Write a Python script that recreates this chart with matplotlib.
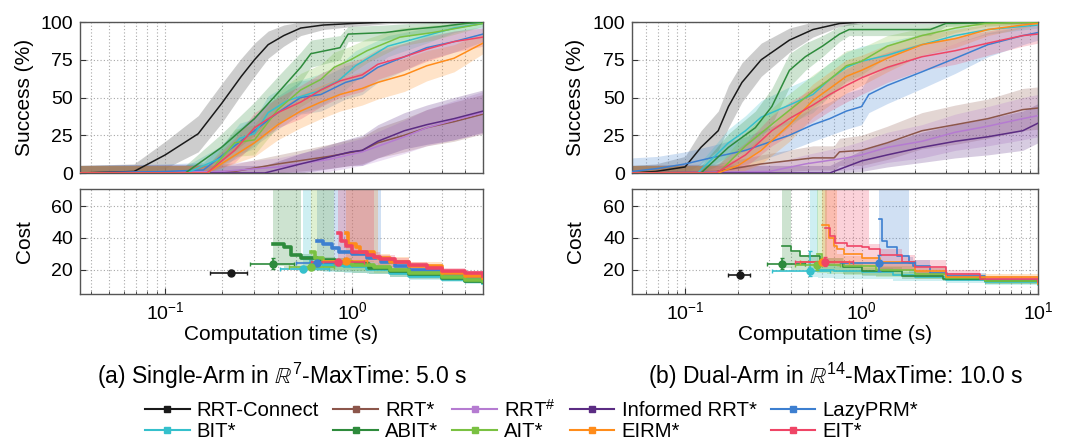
import numpy as np
import matplotlib
matplotlib.use("Agg")
import matplotlib.pyplot as plt
from matplotlib.lines import Line2D
from matplotlib.ticker import LogLocator, NullFormatter

plt.rcParams['font.family'] = ['Liberation Sans', 'DejaVu Sans']
plt.rcParams['mathtext.fontset'] = 'custom'
plt.rcParams['mathtext.rm'] = 'Liberation Sans'
plt.rcParams['mathtext.it'] = 'Liberation Sans:italic'
plt.rcParams['mathtext.bf'] = 'Liberation Sans:bold'

planners = ["RRT-Connect", "RRT*", "RRT$^{\\#}$", "Informed RRT*", "LazyPRM*",
            "BIT*", "ABIT*", "AIT*", "EIRM*", "EIT*"]
colors = {"RRT-Connect": "#1a1a1a", "RRT*": "#8c564b", "RRT$^{\\#}$": "#b57bd1",
          "Informed RRT*": "#5b2c83", "LazyPRM*": "#3d7fd0", "BIT*": "#35c0cc",
          "ABIT*": "#2e8b3c", "AIT*": "#7ac142", "EIRM*": "#ff8c1a", "EIT*": "#ef4566"}

# ---------------- Success data: (times, success %, band half-width) ----------
# Panel (a) single arm
succ_a = {
    "RRT-Connect": ([0.035, 0.068, 0.1, 0.15, 0.2, 0.255, 0.3, 0.355, 0.43, 0.53, 0.7, 1.0, 1.6, 5.0],
                    [0, 1, 12, 26, 46, 64, 75, 85, 91, 96, 98, 99, 100, 100],
                    [5, 5, 9, 12, 13, 12, 11, 9, 7, 5, 3, 2, 1, 1]),
    "RRT*": ([0.035, 0.235, 0.4, 0.75, 1.13, 1.37, 1.9, 2.5, 3.5, 5.0],
             [0, 1, 6, 11, 15, 20, 25, 30, 34, 39],
             [5, 5, 6, 8, 9, 10, 11, 12, 13, 13]),
    "RRT$^{\\#}$": ([0.035, 0.2, 0.4, 0.75, 1.13, 1.9, 2.5, 3.5, 5.0],
                    [0, 1, 4, 9, 14, 24, 30, 35, 40],
                    [5, 5, 6, 8, 9, 11, 12, 13, 14]),
    "Informed RRT*": ([0.035, 0.34, 0.53, 0.98, 1.13, 1.37, 1.9, 2.5, 3.5, 5.0],
                      [0, 0, 6, 14, 15, 21, 28, 32, 36, 41],
                      [5, 5, 7, 9, 10, 11, 12, 13, 14, 14]),
    "LazyPRM*": ([0.035, 0.1, 0.16, 0.235, 0.3, 0.4, 0.53, 0.68, 0.92, 1.13, 1.37, 1.9, 2.5, 3.5, 5.0],
                 [0, 1, 2, 18, 28, 40, 50, 52, 60, 63, 70, 77, 83, 87, 92],
                 [5, 5, 5, 9, 10, 11, 11, 11, 11, 11, 10, 9, 8, 7, 5]),
    "BIT*": ([0.035, 0.13, 0.2, 0.25, 0.3, 0.355, 0.45, 0.65, 0.84, 1.04, 1.55, 2.5, 3.5, 5.0],
             [0, 0, 10, 23, 26, 40, 48, 54, 61, 71, 84, 91, 96, 99],
             [5, 5, 8, 10, 10, 11, 11, 11, 10, 10, 7, 5, 3, 2]),
    "ABIT*": ([0.035, 0.128, 0.2, 0.3, 0.4, 0.53, 0.6, 0.86, 0.95, 1.5, 2.0, 3.0, 4.0, 5.0],
              [0, 0, 17, 36, 53, 70, 79, 83, 92, 93, 95, 97, 99, 100],
              [5, 5, 9, 11, 11, 10, 9, 8, 5, 5, 4, 3, 2, 1]),
    "AIT*": ([0.035, 0.17, 0.235, 0.3, 0.4, 0.53, 0.68, 0.8, 0.98, 1.2, 1.8, 2.7, 5.0],
             [0, 0, 20, 22, 42, 55, 62, 70, 75, 81, 90, 93, 99],
             [5, 5, 9, 10, 11, 11, 10, 10, 9, 8, 6, 5, 2]),
    "EIRM*": ([0.035, 0.167, 0.3, 0.4, 0.53, 0.68, 0.86, 1.13, 1.37, 1.9, 2.5, 3.5, 5.0],
              [0, 0, 20, 32, 41, 47, 52, 56, 60, 65, 71, 76, 86],
              [5, 5, 9, 10, 11, 11, 11, 11, 11, 11, 10, 9, 7]),
    "EIT*": ([0.035, 0.167, 0.235, 0.3, 0.4, 0.53, 0.68, 0.86, 1.13, 1.37, 1.9, 2.5, 3.5, 5.0],
             [0, 0, 15, 30, 40, 47, 55, 61, 65, 72, 77, 82, 87, 90],
             [5, 5, 8, 10, 10, 11, 11, 11, 11, 10, 9, 8, 7, 6]),
}
# Panel (b) dual arm
succ_b = {
    "RRT-Connect": ([0.05, 0.068, 0.1, 0.123, 0.154, 0.176, 0.21, 0.27, 0.39, 0.53, 0.75, 1.0, 10],
                    [0, 1, 4, 17, 28, 44, 60, 75, 88, 95, 99, 100, 100],
                    [5, 5, 7, 11, 13, 14, 13, 11, 8, 5, 2, 1, 1]),
    "RRT*": ([0.05, 0.15, 0.27, 0.53, 0.7, 0.75, 1.0, 1.4, 2.2, 3.4, 5.2, 8.2, 10],
             [0, 1, 6, 10, 10, 14, 15, 20, 28, 32, 36, 42, 43],
             [5, 5, 6, 8, 8, 9, 10, 11, 12, 13, 13, 14, 14]),
    "RRT$^{\\#}$": ([0.05, 0.3, 0.48, 0.82, 1.0, 1.4, 2.2, 3.4, 5.2, 8.2, 10],
                    [0, 1, 6, 10, 12, 17, 21, 27, 31, 36, 38],
                    [5, 5, 6, 8, 9, 10, 11, 12, 13, 14, 14]),
    "Informed RRT*": ([0.05, 0.66, 1.0, 1.4, 2.2, 3.4, 5.2, 8.2, 10],
                      [0, 0, 8, 12, 17, 21, 24, 28, 33],
                      [5, 5, 7, 8, 10, 11, 12, 13, 13]),
    "LazyPRM*": ([0.05, 0.07, 0.1, 0.14, 0.22, 0.31, 0.39, 0.53, 0.66, 0.82, 1.0, 1.1, 1.4, 2.2, 3.4, 5.2, 8.2, 10],
                 [1, 3, 6, 10, 15, 21, 25, 32, 36, 41, 44, 52, 58, 67, 76, 85, 91, 93],
                 [9, 8, 8, 8, 9, 10, 10, 11, 11, 12, 12, 12, 12, 11, 10, 8, 6, 5]),
    "BIT*": ([0.05, 0.118, 0.176, 0.22, 0.27, 0.39, 0.53, 0.66, 0.82, 1.0, 1.4, 2.2, 3.4, 5.2, 10],
             [0, 0, 20, 28, 37, 45, 52, 62, 70, 74, 78, 85, 91, 95, 98],
             [5, 5, 9, 10, 11, 12, 12, 11, 10, 10, 9, 7, 5, 3, 2]),
    "ABIT*": ([0.05, 0.123, 0.176, 0.25, 0.31, 0.39, 0.48, 0.6, 0.75, 0.85, 2.45, 3.0, 10],
              [0, 0, 17, 30, 44, 68, 77, 84, 92, 95, 95, 99, 100],
              [5, 5, 9, 11, 12, 11, 9, 7, 5, 4, 4, 2, 1]),
    "AIT*": ([0.05, 0.154, 0.22, 0.34, 0.53, 0.66, 0.82, 1.0, 1.4, 2.2, 3.4, 5.0, 10],
             [0, 0, 18, 36, 54, 62, 71, 74, 84, 91, 96, 99, 100],
             [5, 5, 9, 11, 11, 11, 10, 9, 7, 5, 3, 2, 1]),
    "EIRM*": ([0.05, 0.154, 0.2, 0.27, 0.39, 0.53, 0.66, 0.82, 1.0, 1.4, 2.2, 3.4, 5.2, 8.2, 10],
              [0, 0, 5, 15, 32, 48, 56, 64, 68, 76, 85, 89, 95, 98, 99],
              [5, 5, 6, 9, 11, 11, 11, 11, 10, 9, 7, 6, 4, 2, 1]),
    "EIT*": ([0.05, 0.15, 0.22, 0.31, 0.39, 0.53, 0.66, 0.82, 1.0, 1.4, 2.2, 3.4, 5.2, 8.2, 10],
             [0, 0, 12, 28, 36, 45, 52, 58, 63, 70, 77, 81, 86, 91, 92],
             [5, 5, 8, 10, 11, 11, 11, 11, 11, 10, 9, 9, 8, 7, 6]),
}

# ---------------- Initial-solution points: (t, cost, t_lo, t_hi, c_lo, c_hi) ----
init_a = {
    "RRT-Connect": (0.226, 18.0, 0.173, 0.275, 17.0, 19.5),
    "ABIT*": (0.377, 23.8, 0.285, 0.49, 20.5, 27.0),
    "BIT*": (0.544, 20.2, 0.41, 0.75, 18.5, 22.0),
    "AIT*": (0.6, 21.7, 0.46, 0.8, 20.0, 23.5),
    "LazyPRM*": (0.65, 24.0, 0.5, 0.85, 22.5, 25.5),
    "EIT*": (0.84, 24.5, 0.6, 1.15, 23.0, 26.0),
    "EIRM*": (0.92, 25.7, 0.7, 1.2, 24.0, 27.5),
}
init_b = {
    "RRT-Connect": (0.205, 16.8, 0.176, 0.234, 14.5, 19.5),
    "ABIT*": (0.355, 23.4, 0.29, 0.48, 20.5, 27.0),
    "BIT*": (0.51, 19.2, 0.31, 0.66, 16.0, 32.0),
    "AIT*": (0.56, 22.8, 0.42, 0.75, 20.0, 25.5),
    "EIRM*": (0.6, 24.5, 0.45, 0.85, 23.0, 26.5),
    "EIT*": (0.62, 24.8, 0.42, 0.9, 22.0, 28.0),
    "LazyPRM*": (1.25, 24.4, 0.75, 2.0, 19.0, 29.0),
}

# ---------------- Cost curves: (times, median, lower, upper) ----------------
cost_a = {
    "ABIT*": ([0.377, 0.43, 0.47, 0.53, 0.65, 0.81, 1.0, 1.23, 1.6, 2.0, 3.0, 4.0, 5.0],
              [36, 34, 29.5, 27, 26, 25, 23.5, 21, 19, 17, 14.5, 13, 12],
              [22, 21, 20, 19.5, 19, 18.5, 18, 17, 15.5, 14, 12.5, 11.5, 11],
              [90, 90, 90, 30, 28, 27, 25.5, 23, 21, 19, 16, 14.5, 13.5]),
    "BIT*": ([0.544, 0.6, 0.7, 0.9, 1.2, 1.6, 2.0, 3.0, 4.0, 5.0],
             [27, 24, 23, 22, 20.5, 18, 16, 14, 12.5, 11.5],
             [20, 19, 18.5, 18, 17, 15, 13.5, 12, 11, 10.5],
             [90, 27, 25, 24, 22.5, 20, 18, 15.5, 14, 13]),
    "AIT*": ([0.6, 0.63, 0.7, 0.8, 1.0, 1.3, 1.6, 2.0, 3.0, 4.0, 5.0],
             [31, 27, 25, 24, 23, 21.5, 19.5, 17.5, 15, 13.5, 12.5],
             [21, 20.5, 20, 19.5, 19, 18, 16.5, 15, 13, 12, 11.5],
             [90, 90, 90, 27, 25.5, 24, 22, 20, 17, 15, 14]),
    "LazyPRM*": ([0.65, 0.7, 0.78, 0.85, 1.0, 1.2, 1.42, 1.7, 2.0, 3.0, 4.0, 5.0],
                 [38, 36, 33.5, 31, 30, 27, 25, 22, 20, 17, 15.5, 14.5],
                 [24, 23, 22, 21.5, 21, 20, 19, 18, 17, 14.5, 13.5, 13],
                 [90, 90, 90, 90, 90, 90, 28, 25, 23, 19, 17, 16]),
    "EIRM*": ([0.92, 0.95, 1.05, 1.1, 1.3, 1.38, 1.6, 2.0, 3.0, 4.0, 5.0],
              [43, 36, 34, 31, 28, 27, 25, 22, 18, 16, 14.5],
              [26, 25.5, 25, 24.5, 24, 23, 21.5, 19.5, 16.5, 14.5, 13.5],
              [90, 90, 90, 90, 90, 30, 28, 25, 20, 18, 16.5]),
    "EIT*": ([0.84, 0.87, 0.92, 1.0, 1.2, 1.3, 1.4, 1.7, 2.0, 2.5, 3.0, 4.0, 5.0],
             [43, 38, 35, 31, 29, 28, 26.5, 25, 23, 21, 19, 17.5, 16],
             [25, 24.5, 24, 23.5, 23, 22, 21, 20, 19, 17.5, 16, 15, 14],
             [90, 90, 90, 90, 90, 31, 29, 27, 25, 23, 21, 19, 17.5]),
}
cost_b = {
    "ABIT*": ([0.355, 0.4, 0.45, 0.58, 0.79, 1.0, 1.7, 2.9, 5.0, 10],
              [35, 32, 28.7, 24.5, 21.4, 19.3, 16.2, 14, 12.5, 11],
              [21, 20, 19.5, 18.5, 17, 16, 14, 12.5, 11, 10],
              [90, 31, 29, 27, 24, 21.5, 18.5, 16, 14, 12.5]),
    "BIT*": ([0.51, 0.57, 0.7, 1.0, 1.5, 2.0, 3.0, 5.0, 10],
             [25, 19.5, 19, 18.5, 16.5, 15, 13.5, 12, 10.5],
             [15, 14.5, 14, 14, 13, 12.5, 11.5, 10.5, 9.5],
             [90, 25, 23, 21, 19, 17.5, 15.5, 13.5, 12]),
    "AIT*": ([0.56, 0.6, 0.64, 0.8, 1.2, 2.0, 3.0, 5.0, 10],
             [30, 26, 24.5, 22, 20, 17, 14.5, 12.5, 11],
             [18, 17.5, 17, 16.5, 15.5, 14, 12.5, 11, 10],
             [90, 90, 27, 25, 22.5, 19, 16.5, 14, 12.5]),
    "LazyPRM*": ([1.25, 1.3, 1.4, 1.58, 1.85, 1.96, 2.45, 3.05, 5.0, 10],
                 [52, 38, 34, 28.6, 24, 22.3, 18, 16, 13.5, 11.5],
                 [20, 20, 19.5, 19, 18, 17.5, 15.5, 14, 12, 10.5],
                 [90, 90, 90, 90, 28, 26, 21, 18, 15, 13]),
    "EIRM*": ([0.6, 0.65, 0.7, 0.73, 0.8, 1.0, 1.27, 2.0, 3.0, 10],
              [48, 40, 35, 33, 30, 27.5, 25, 19, 15, 11],
              [23, 22.5, 22, 21.5, 21, 20, 19, 16, 13.5, 10],
              [90, 90, 90, 30, 28.5, 27, 25.5, 21, 17, 12.5]),
    "EIT*": ([0.62, 0.66, 0.71, 0.83, 1.0, 1.1, 1.27, 1.7, 2.0, 3.0, 4.7, 10],
             [46, 41, 37, 35, 34, 33, 29, 25, 21.5, 17, 14, 12],
             [24, 23.5, 23, 22.5, 22, 21.5, 20.5, 19, 17.5, 15, 13, 11],
             [90, 90, 90, 90, 90, 36, 33, 29, 26, 20, 16, 13.5]),
}

xlims = [(0.035, 5.0), (0.05, 10.0)]
captions = ["(a) Single-Arm in $\\mathbb{R}^{7}$-MaxTime: 5.0 s",
            "(b) Dual-Arm in $\\mathbb{R}^{14}$-MaxTime: 10.0 s"]
succ_ticks = [0, 25, 50, 75, 100]
cost_ticks = [20, 40, 60]

W, H = 1065, 441
fig = plt.figure(figsize=(W / 100, H / 100), dpi=100)

def fx(px):
    return px / W

def fy(py):
    return 1 - py / H

panel_x = [(80, 483), (632, 1038)]
TICK_FS = 14
LABEL_FS = 15
CAP_FS = 16.5
LEG_FS = 14.6

def style_axes(ax, xlim):
    ax.set_xscale('log')
    ax.set_xlim(*xlim)
    ax.xaxis.set_major_locator(LogLocator(base=10, numticks=10))
    ax.xaxis.set_minor_locator(LogLocator(base=10, subs=np.arange(2, 10), numticks=20))
    ax.xaxis.set_minor_formatter(NullFormatter())
    ax.grid(True, which='major', color='#a8a8a8', linestyle=(0, (1, 2)), linewidth=0.8)
    ax.grid(True, which='minor', axis='x', color='#a8a8a8', linestyle=(0, (1, 2)), linewidth=0.8)
    ax.set_axisbelow(True)
    ax.tick_params(which='both', direction='in', labelsize=TICK_FS, color='#333333', pad=5)
    ax.tick_params(which='major', length=4)
    ax.tick_params(which='minor', length=2.5)
    for s in ax.spines.values():
        s.set_color('#555555')
        s.set_linewidth(1.0)

for pi, (succ, init, cost) in enumerate([(succ_a, init_a, cost_a), (succ_b, init_b, cost_b)]):
    x0, x1 = panel_x[pi]
    ax1 = fig.add_axes([fx(x0), fy(173), fx(x1 - x0), (173 - 22) / H])
    ax2 = fig.add_axes([fx(x0), fy(294), fx(x1 - x0), (294 - 189) / H])
    for ax in (ax1, ax2):
        style_axes(ax, xlims[pi])
    ax1.set_ylim(0, 100)
    ax1.set_yticks(succ_ticks)
    ax1.tick_params(labelbottom=False)
    ax1.set_ylabel("Success (%)", fontsize=LABEL_FS)
    ax1.yaxis.set_label_coords(-0.115, 0.5)
    ax2.set_ylim(4.5, 71)
    ax2.set_yticks(cost_ticks)
    ax2.set_ylabel("Cost", fontsize=LABEL_FS)
    ax2.yaxis.set_label_coords(-0.115, 0.5)
    ax2.set_xlabel("Computation time (s)", fontsize=LABEL_FS)
    ax2.xaxis.set_label_coords(0.5, -0.30)

    # success bands then lines
    for name in planners:
        t, s, hw = succ[name]
        t = np.array(t); s = np.array(s, float); hw = np.array(hw, float)
        lo = np.clip(s - hw, 0, 100); hi = np.clip(s + hw, 0, 100)
        c = '#8a8a8a' if name == "RRT-Connect" else colors[name]
        a = 0.42 if name == "RRT-Connect" else 0.24
        ax1.fill_between(t, lo, hi, color=c, alpha=a, linewidth=0, zorder=1)
    for name in planners:
        t, s, hw = succ[name]
        ax1.plot(t, s, color=colors[name], lw=1.1, zorder=3)

    lw = 2.6 if pi == 0 else 1.2
    for name in planners:
        if name in cost:
            t, m, lo, hi = cost[name]
            ax2.fill_between(t, lo, hi, step='post', color=colors[name], alpha=0.24,
                             linewidth=0, zorder=1)
    for name in planners:
        if name in cost:
            t, m, lo, hi = cost[name]
            ax2.step(t, m, where='post', color=colors[name], lw=lw, zorder=3)
    for name in planners:
        if name in init:
            t, c, tl, th, cl, ch = init[name]
            ax2.errorbar([t], [c], xerr=[[t - tl], [th - t]], yerr=[[c - cl], [ch - c]],
                         fmt='o', ms=5, color=colors[name], ecolor=colors[name],
                         elinewidth=1.2, capsize=1.5, zorder=4)

    cx = (x0 + x1) / 2
    fig.text(fx(cx), fy(376), captions[pi], ha='center', va='center', fontsize=CAP_FS)

# legend (row-major order)
order = ["RRT-Connect", "BIT*", "RRT*", "ABIT*", "RRT$^{\\#}$", "AIT*",
         "Informed RRT*", "EIRM*", "LazyPRM*", "EIT*"]
handles = [Line2D([], [], color=colors[n], lw=1.5, marker='s', ms=4.5) for n in order]
fig.legend(handles, order, loc='center left', bbox_to_anchor=(fx(145), fy(420)), ncol=5,
           frameon=False, fontsize=LEG_FS, handlelength=2.2, handletextpad=0.35,
           columnspacing=0.7, labelspacing=0.1, borderpad=0, borderaxespad=0)

fig.savefig("out.png", dpi=100)
